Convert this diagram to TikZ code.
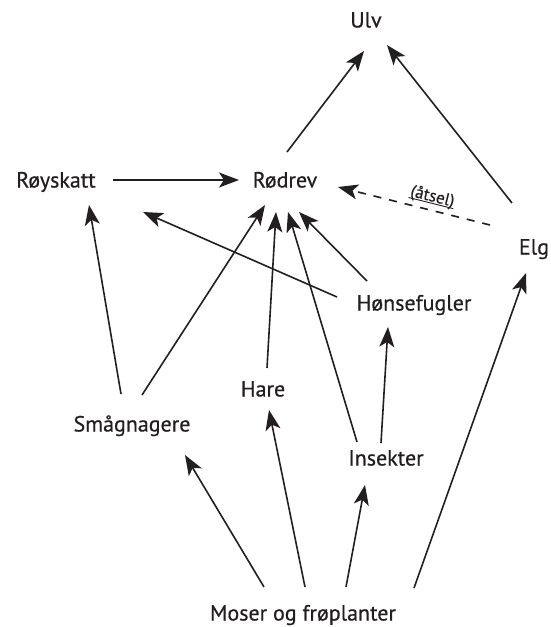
\documentclass[tikz,border=0pt]{standalone}
\usepackage{fontspec}
\setmainfont{PT Sans}
\newfontfamily\lblfont{PT Sans}[FakeBold=0.5]
\usetikzlibrary{arrows.meta,calc}
\definecolor{ink}{HTML}{231F20}
\begin{document}
\begin{tikzpicture}[x=1pt,y=-1pt,
  lbl/.style={inner sep=0pt, text height=15pt, text depth=0pt, font=\lblfont\fontsize{22}{25}\selectfont, text=ink},
  arr/.style={line width=1.6pt, draw=ink, -{Stealth[length=20pt,width=15pt,inset=5pt]}},
  dsh/.style={arr, dash pattern=on 8pt off 8pt}]
\useasboundingbox (0,0) rectangle (551,627);
\node[lbl] (ulv)   at (366,20)  {Ulv};
\node[lbl] (roy)   at (56,180)  {Røyskatt};
\node[lbl] (rod)   at (285,180) {Rødrev};
\node[lbl] (elg)   at (534,247) {Elg};
\node[lbl] (hons)  at (414,303) {Hønsefugler};
\node[lbl] (hare)  at (263,389) {Hare};
\node[lbl] (smaa)  at (132,424) {Smågnagere};
\node[lbl] (ins)   at (386,458) {Insekter};
\node[lbl] (moser) at (303,613) {Moser og frøplanter};

\draw[arr] ($(rod)+(2,-28)$) -- ($(ulv)+(-2,31)$);
\draw[arr] ($(elg)+(-22,-44)$) -- ($(ulv)+(21,25)$);
\draw[arr] ($(roy)+(57,0)$) -- ($(rod)+(-46,0)$);
\draw[dsh] ($(elg)+(-44,-22)$) -- node[sloped, pos=0.4, above=7pt, inner sep=0pt, text height=12pt, text depth=1pt, font=\lblfont\fontsize{17}{20}\selectfont, text=ink] (atsel) {(åtsel)} ($(rod)+(53,7)$);
\draw[line width=0.9pt, draw=ink] ($(atsel.south west)+(0,0)$) -- (atsel.south east);
\draw[arr] ($(smaa)+(-11,-30)$) -- ($(roy)+(33,25)$);
\draw[arr] ($(hons)+(-77,-6)$) -- ($(roy)+(87,32)$);
\draw[arr] ($(smaa)+(10,-29)$) -- ($(rod)+(-20,25)$);
\draw[arr] ($(hare)+(4,-21)$) -- ($(rod)+(-9,32)$);
\draw[arr] ($(ins)+(-29,-16)$) -- ($(rod)+(3,32)$);
\draw[arr] ($(hons)+(-47,-22)$) -- ($(rod)+(14,32)$);
\draw[arr] ($(ins)+(-5,-15)$) -- ($(hons)+(-26,24)$);
\draw[arr] ($(moser)+(-39,-26)$) -- ($(smaa)+(53,31)$);
\draw[arr] ($(moser)+(2,-26)$) -- ($(hare)+(6,21)$);
\draw[arr] ($(moser)+(43,-26)$) -- ($(ins)+(-21,27)$);
\draw[arr] ($(moser)+(111,-25)$) -- ($(elg)+(-8,26)$);
\end{tikzpicture}
\end{document}
